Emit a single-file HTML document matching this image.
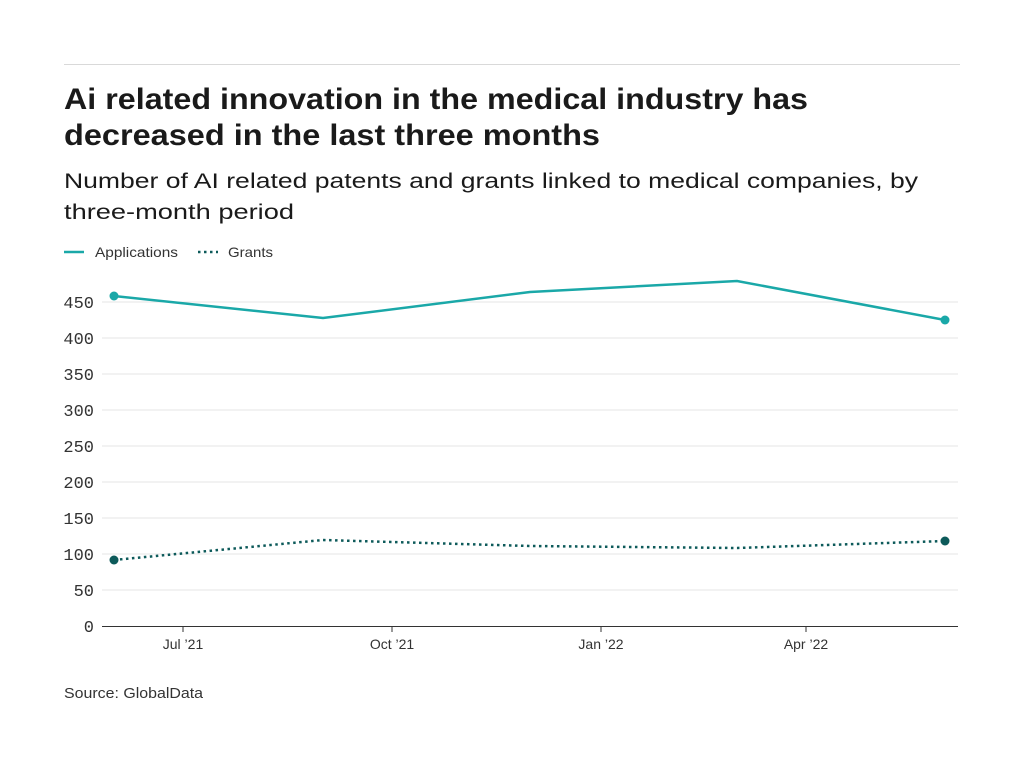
<!DOCTYPE html>
<html><head><meta charset="utf-8"><style>
body{margin:0;background:#fff;width:1024px;height:768px;overflow:hidden;font-family:"Liberation Sans",sans-serif;}
</style></head><body>
<svg width="1024" height="768" xmlns="http://www.w3.org/2000/svg">
<line x1="64" y1="64.5" x2="960" y2="64.5" stroke="#d9d9d9"/>
<g font-family="Liberation Sans, sans-serif" fill="#1a1a1a">
<text x="64" y="109" font-size="30" font-weight="bold" textLength="744" lengthAdjust="spacingAndGlyphs">Ai related innovation in the medical industry has</text>
<text x="64" y="145" font-size="30" font-weight="bold" textLength="536" lengthAdjust="spacingAndGlyphs">decreased in the last three months</text>
<text x="64" y="188" font-size="21" textLength="854" lengthAdjust="spacingAndGlyphs">Number of AI related patents and grants linked to medical companies, by</text>
<text x="64" y="219" font-size="21" textLength="230" lengthAdjust="spacingAndGlyphs">three-month period</text>
<text x="95" y="257" font-size="14" fill="#333" textLength="83" lengthAdjust="spacingAndGlyphs">Applications</text>
<text x="228" y="257" font-size="14" fill="#333" textLength="45" lengthAdjust="spacingAndGlyphs">Grants</text>
<text x="64" y="698" font-size="15" fill="#333" textLength="139" lengthAdjust="spacingAndGlyphs">Source: GlobalData</text>
</g>
<line x1="64" y1="252" x2="84" y2="252" stroke="#1aa8a8" stroke-width="2.5"/>
<line x1="198" y1="252" x2="218" y2="252" stroke="#0d5a5a" stroke-width="2.5" stroke-dasharray="2.5,3.5"/>
<g stroke="#e6e6e6" stroke-width="1">
<line x1="102" y1="302" x2="958" y2="302"/><line x1="102" y1="338" x2="958" y2="338"/>
<line x1="102" y1="374" x2="958" y2="374"/><line x1="102" y1="410" x2="958" y2="410"/>
<line x1="102" y1="446" x2="958" y2="446"/><line x1="102" y1="482" x2="958" y2="482"/>
<line x1="102" y1="518" x2="958" y2="518"/><line x1="102" y1="554" x2="958" y2="554"/>
<line x1="102" y1="590" x2="958" y2="590"/>
</g>
<line x1="102" y1="626.5" x2="958" y2="626.5" stroke="#333"/>
<g font-family="Liberation Mono, monospace" font-size="17" fill="#333" text-anchor="end">
<text x="94" y="308">450</text><text x="94" y="344">400</text><text x="94" y="380">350</text>
<text x="94" y="416">300</text><text x="94" y="452">250</text><text x="94" y="488">200</text>
<text x="94" y="524">150</text><text x="94" y="560">100</text><text x="94" y="596">50</text>
<text x="94" y="632">0</text>
</g>
<g stroke="#333"><line x1="183" y1="627" x2="183" y2="632"/><line x1="392" y1="627" x2="392" y2="632"/><line x1="601" y1="627" x2="601" y2="632"/><line x1="806" y1="627" x2="806" y2="632"/></g>
<g font-family="Liberation Sans, sans-serif" font-size="14" fill="#333" text-anchor="middle">
<text x="183" y="649">Jul ’21</text><text x="392" y="649">Oct ’21</text><text x="601" y="649">Jan ’22</text><text x="806" y="649">Apr ’22</text>
</g>
<polyline points="114,296 323,318 530,292 737,281 945,320" fill="none" stroke="#1aa8a8" stroke-width="2.5"/>
<circle cx="114" cy="296" r="4.5" fill="#1aa8a8"/><circle cx="945" cy="320" r="4.5" fill="#1aa8a8"/>
<polyline points="114,560 323,540 530,546 737,548 945,541" fill="none" stroke="#0d5a5a" stroke-width="2.5" stroke-dasharray="2.5,3.5"/>
<circle cx="114" cy="560" r="4.5" fill="#0d5a5a"/><circle cx="945" cy="541" r="4.5" fill="#0d5a5a"/>
</svg>
</body></html>
